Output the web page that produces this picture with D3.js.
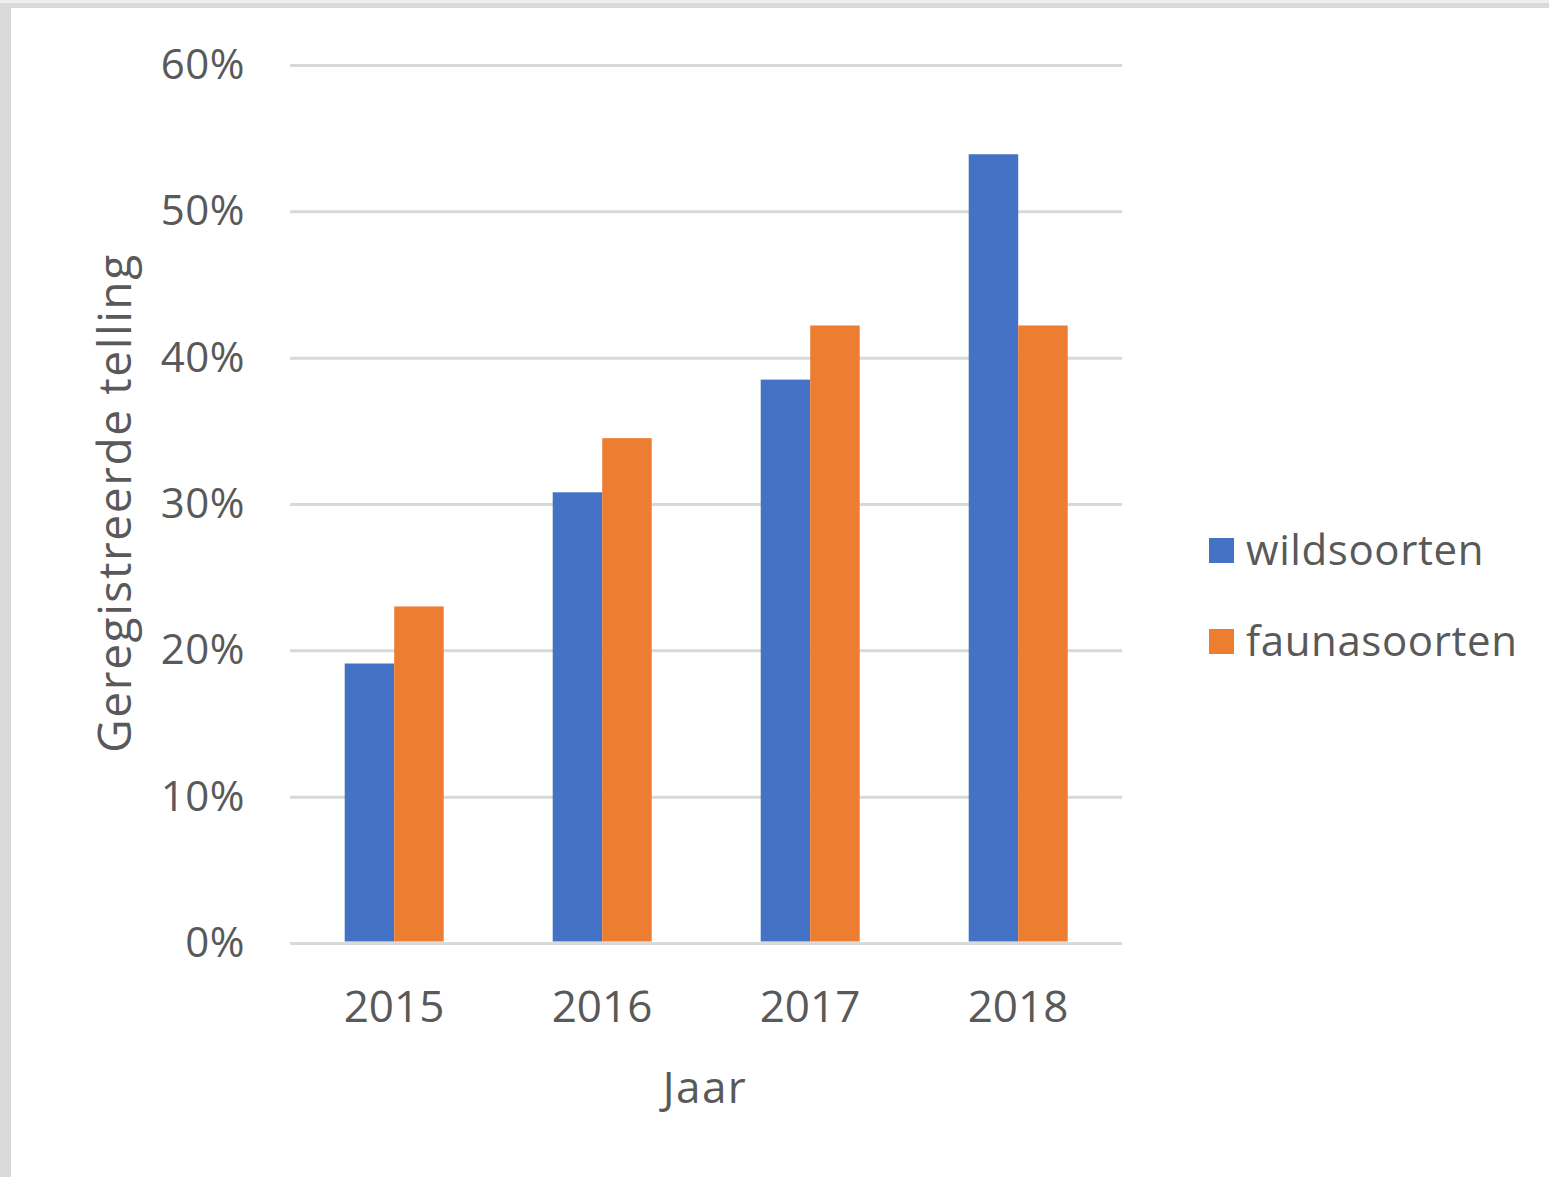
<!DOCTYPE html>
<html>
<head>
<meta charset="utf-8">
<script src="https://cdn.jsdelivr.net/npm/d3@7"></script>
<style>
  html, body { margin: 0; padding: 0; background: #efefef; }
  #chart { position: absolute; left: 0; top: 0; width: 1549px; height: 1177px; }
  text { font-family: "Open Sans", "Noto Sans", sans-serif; fill: #595959; }
</style>
</head>
<body>
<div id="chart"></div>
<script>
// data
const years = ["2015", "2016", "2017", "2018"];
const seriesNames = ["wildsoorten", "faunasoorten"];
const wildsoorten = [0.191, 0.308, 0.385, 0.539];
const faunasoorten = [0.230, 0.345, 0.422, 0.422];
const yTicks = [0, 0.1, 0.2, 0.3, 0.4, 0.5, 0.6];
const colors = ["#4472C4", "#ED7D31"];

const W = 1549, H = 1177;
const plotLeft = 290, plotRight = 1122, plotTop = 65, plotBottom = 943;

const data = years.map((y, i) => ({ name: y, wildsoorten: wildsoorten[i], faunasoorten: faunasoorten[i] }));

const svg = d3.select("#chart").append("svg")
  .attr("width", W)
  .attr("height", H);

// frame
svg.append("rect").attr("x", 0).attr("y", 3).attr("width", W).attr("height", H - 3).attr("fill", "#dadada");
svg.append("rect").attr("x", 11).attr("y", 8).attr("width", W - 11).attr("height", H - 8).attr("fill", "#ffffff");

const x0 = d3.scaleBand().domain(years).range([plotLeft, plotRight]).padding(0);
const x1 = d3.scaleBand().domain(seriesNames)
  .range([x0.bandwidth() * 0.263, x0.bandwidth() * 0.739]).padding(0);
const y = d3.scaleLinear().domain([0, 0.6]).range([plotBottom, plotTop]);
const color = d3.scaleOrdinal().domain(seriesNames).range(colors);

// gridlines + tick labels
const yAxis = svg.append("g")
  .attr("transform", `translate(${plotLeft},0)`)
  .call(d3.axisLeft(y).tickValues(yTicks).tickFormat(d3.format(".0%"))
    .tickSize(-(plotRight - plotLeft)).tickPadding(45));
yAxis.select(".domain").remove();
yAxis.selectAll(".tick line").attr("stroke", "#d9d9d9").attr("stroke-width", 3);
yAxis.selectAll(".tick text")
  .attr("font-size", 42)
  .attr("font-family", "'Open Sans', sans-serif")
  .attr("fill", "#595959")
  .attr("letter-spacing", 0.5);

// bars
svg.append("g").selectAll("g")
  .data(data)
  .join("g")
  .attr("transform", d => `translate(${x0(d.name)},0)`)
  .selectAll("rect")
  .data(d => seriesNames.map(k => ({ key: k, value: d[k] })))
  .join("rect")
  .attr("x", d => x1(d.key))
  .attr("y", d => y(d.value))
  .attr("width", x1.bandwidth())
  .attr("height", d => y(0) - y(d.value) - 1.5)
  .attr("fill", d => color(d.key));

// x axis labels
const xAxis = svg.append("g")
  .attr("transform", `translate(0,${plotBottom})`)
  .call(d3.axisBottom(x0).tickSize(0).tickPadding(48));
xAxis.select(".domain").remove();
xAxis.selectAll(".tick text")
  .attr("font-size", 44)
  .attr("font-family", "'Open Sans', sans-serif")
  .attr("fill", "#595959");

// axis titles
svg.append("text")
  .attr("x", 705)
  .attr("y", 1103)
  .attr("text-anchor", "middle")
  .attr("font-size", 44)
  .attr("letter-spacing", 1.5)
  .text("Jaar");

svg.append("text")
  .attr("transform", "translate(131,503) rotate(-90)")
  .attr("text-anchor", "middle")
  .attr("font-size", 46)
  .attr("letter-spacing", 1.6)
  .text("Geregistreerde telling");

// legend
const legend = svg.append("g").selectAll("g")
  .data(seriesNames)
  .join("g")
  .attr("transform", (d, i) => `translate(1209,${538 + i * 91})`);
legend.append("rect")
  .attr("width", 25).attr("height", 25)
  .attr("fill", d => color(d));
legend.append("text")
  .attr("x", 37).attr("y", 27)
  .attr("font-size", 42)
  .attr("letter-spacing", 0.6)
  .text(d => d);
</script>
</body>
</html>
